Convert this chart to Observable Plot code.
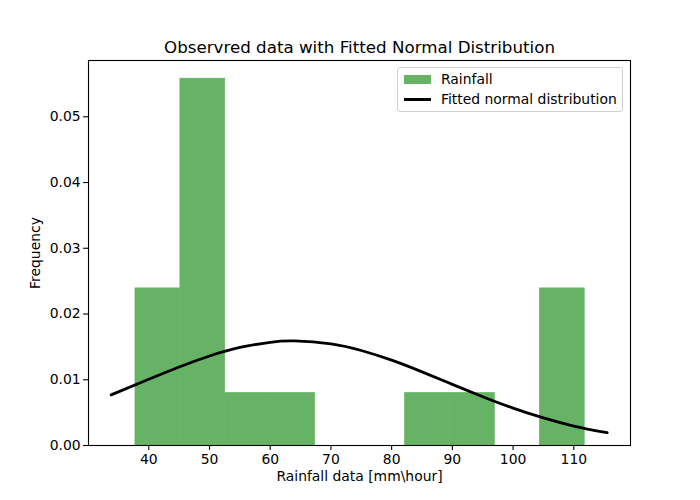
<!DOCTYPE html>
<html><head><meta charset="utf-8">
<script src="https://cdn.jsdelivr.net/npm/d3@7"></script>
<script src="https://cdn.jsdelivr.net/npm/@observablehq/plot@0.6"></script>
<style>
body{margin:0;background:#fff;font-family:"DejaVu Sans",sans-serif;}
#wrap{position:relative;width:700px;height:500px;}
#legend{position:absolute;left:397px;top:67px;width:224px;height:43px;border:1px solid #d0d0d0;border-radius:3px;background:rgba(255,255,255,0.8);font-size:13.9px;color:#000;}
.item{position:absolute;left:43px;line-height:16px;white-space:nowrap;}
.patch{position:absolute;left:6px;top:7px;width:27px;height:9px;background:#66b366;}
.ln{position:absolute;left:6px;top:30px;width:27px;height:3px;background:#000;}
</style></head><body><div id="wrap"></div>
<script>
const binEdges = [37.8, 45.2, 52.6, 60.0, 67.4, 74.8, 82.2, 89.6, 97.0, 104.4, 111.8];
const binDensity = [0.0239, 0.0558, 0.0080, 0.0080, 0, 0, 0.0080, 0.0080, 0, 0.0239];
const curveX = [33.8, 40, 45, 50, 55, 60, 64, 70, 75, 80, 85, 90, 95, 100, 105, 110, 115.5];
const curveY = [0.0077, 0.01007, 0.01194, 0.01361, 0.01491, 0.0157, 0.0159, 0.01545, 0.01445, 0.01298, 0.0112, 0.0093, 0.00742, 0.00568, 0.00419, 0.00296, 0.00194];
const xTicks = [40, 50, 60, 70, 80, 90, 100, 110];
const yTicks = [0, 0.01, 0.02, 0.03, 0.04, 0.05];
const titleText = "Observred data with Fitted Normal Distribution";
const xLabel = "Rainfall data [mm\\hour]";
const yLabel = "Frequency";

const bins = binDensity.map((d, i) => ({x1: binEdges[i], x2: binEdges[i + 1], y: d})).filter(b => b.y > 0);
const curve = curveX.map((x, i) => ({x, y: curveY[i]}));

const chart = Plot.plot({
  width: 700, height: 500,
  marginLeft: 88, marginRight: 70, marginTop: 60, marginBottom: 55,
  style: {fontFamily: "DejaVu Sans, sans-serif", fontSize: "13.9px", color: "#000", background: "#fff"},
  x: {domain: [30.07, 119.34]},
  y: {domain: [0, 0.05856]},
  marks: [
    Plot.rectY(bins, {x1: "x1", x2: "x2", y: "y", fill: "#66b366", stroke: "#66b366", strokeWidth: 0.6}),
    Plot.line(curve, {x: "x", y: "y", stroke: "#000", strokeWidth: 2.8, curve: "natural"}),
    Plot.frame({stroke: "#000", strokeWidth: 1.1}),
    Plot.axisX({ticks: xTicks, tickSize: 4.9, tickPadding: 4, label: null, fontSize: 13.9, strokeWidth: 1.1}),
    Plot.axisY({ticks: yTicks, tickSize: 4.9, tickPadding: 3, tickFormat: d3.format(".2f"), label: null, fontSize: 13.9, strokeWidth: 1.1}),
    Plot.text([titleText], {frameAnchor: "top", dy: -8, lineAnchor: "bottom", fontSize: 16.7, fill: "#000"}),
    Plot.text([xLabel], {frameAnchor: "bottom", dy: 35, fontSize: 13.9, fill: "#000"}),
    Plot.text([yLabel], {frameAnchor: "left", dx: -53, rotate: -90, textAnchor: "middle", fontSize: 13.9, fill: "#000"})
  ]
});
const wrap = document.getElementById("wrap");
wrap.appendChild(chart);
const legend = document.createElement("div");
legend.id = "legend";
legend.innerHTML = '<div class="patch"></div><div class="item" style="top:3px">Rainfall</div>' +
  '<div class="ln"></div><div class="item" style="top:23px">Fitted normal distribution</div>';
wrap.appendChild(legend);
</script>
</body></html>
